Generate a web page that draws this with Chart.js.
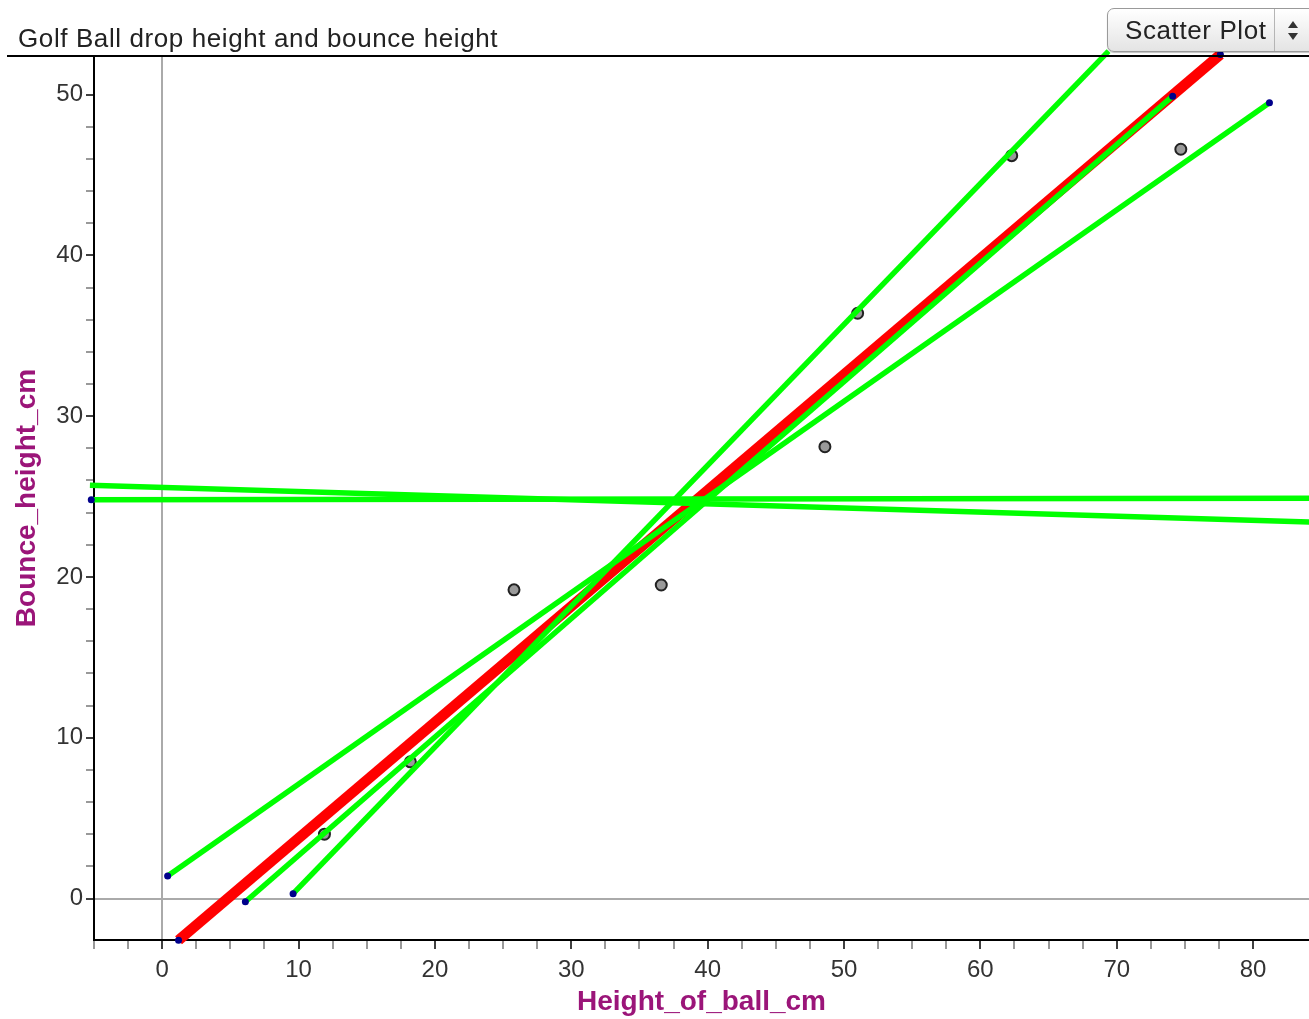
<!DOCTYPE html>
<html lang="en">
<head>
<meta charset="UTF-8">
<title>Golf Ball drop height and bounce height</title>
<script src="https://cdn.jsdelivr.net/npm/chart.js"></script>
<style>
  body { margin: 0; background: #fff; }
  #wrap { position: relative; width: 1309px; height: 1019px; overflow: hidden; }
  #chart { position: absolute; left: 0; top: 0; }
  .title { position: absolute; left: 18px; top: 25px; font: 26px "Liberation Sans", Arial, sans-serif; letter-spacing: 0.6px; line-height: 26px; color: #222; white-space: nowrap; }
  .picker { position: absolute; left: 1107px; top: 8px; width: 230px; height: 42px; border: 1px solid #9a9a9a; border-radius: 7px;
            background: linear-gradient(#ffffff, #e4e4e4); box-shadow: 0 1px 1px rgba(0,0,0,0.25); }
  .picker span { position: absolute; left: 17px; top: 7px; font: 26px "Liberation Sans", Arial, sans-serif; letter-spacing: 0.6px; line-height: 28px; color: #222; }
  .picker .sep { position: absolute; left: 166px; top: 0; width: 1px; height: 42px; background: #b5b5b5; }
  .picker .up, .picker .down { position: absolute; left: 180px; width: 0; height: 0; border-left: 5px solid transparent; border-right: 5px solid transparent; }
  .picker .up { top: 12px; border-bottom: 7px solid #333; }
  .picker .down { top: 24px; border-top: 7px solid #333; }
</style>
</head>
<body>
<div id="wrap">
  <canvas id="chart" width="1309" height="1019"></canvas>
  <div class="title">Golf Ball drop height and bounce height</div>
  <div class="picker"><span>Scatter Plot</span><div class="sep"></div><div class="up"></div><div class="down"></div></div>
</div>
<script>
  // measured points
  const heightOfBall = [11.9, 18.2, 25.8, 36.6, 48.6, 51.0, 62.3, 74.7];
  const bounceHeight = [4.0, 8.5, 19.2, 19.5, 28.1, 36.4, 46.2, 46.6];

  // red fitted line, end points
  const fitX = [1.2, 77.6];
  const fitY = [-2.6, 52.5];

  // green movable lines, end points
  const lineAX = [0.4, 81.2],  lineAY = [1.4, 49.5];
  const lineBX = [6.1, 74.1],  lineBY = [-0.2, 49.9];
  const lineCX = [9.6, 69.4],  lineCY = [0.3, 52.7];
  const lineDX = [-5.3, 84.8], lineDY = [25.7, 23.4];
  const lineEX = [-5.2, 84.8], lineEY = [24.8, 24.9];

  // tick labels
  const xLabels = [0, 10, 20, 30, 40, 50, 60, 70, 80];
  const yLabels = [0, 10, 20, 30, 40, 50];

  const pts = (xs, ys) => xs.map((x, i) => ({ x: x, y: ys[i] }));
  const near = (v, list) => list.some(t => Math.abs(v - t) < 1e-6);
  const isStep = (v, s) => Math.abs(v / s - Math.round(v / s)) < 1e-6;

  function greenLine(xs, ys) {
    return {
      data: pts(xs, ys), showLine: true, clip: false, order: 1,
      borderColor: '#00ff00', borderWidth: 5.5,
      pointRadius: 3.5, pointBackgroundColor: '#00008b', pointBorderWidth: 0
    };
  }

  // black rule under the title
  const titleRule = {
    id: 'titleRule',
    afterDraw(chart) {
      const c = chart.ctx;
      c.save();
      c.strokeStyle = '#000';
      c.lineWidth = 2;
      c.beginPath();
      c.moveTo(7, chart.chartArea.top);
      c.lineTo(1309, chart.chartArea.top);
      c.stroke();
      c.restore();
    }
  };

  const tickFont = { family: '"Liberation Sans", Arial, sans-serif', size: 24 };
  const titleFont = { family: '"Liberation Sans", Arial, sans-serif', size: 28, weight: 'bold' };

  new Chart(document.getElementById('chart').getContext('2d'), {
    type: 'scatter',
    data: {
      datasets: [
        {
          data: pts(heightOfBall, bounceHeight), order: 3,
          pointRadius: 5.5, backgroundColor: '#9a9a9a', borderColor: '#222', borderWidth: 2
        },
        {
          data: pts(fitX, fitY), showLine: true, clip: false, order: 2,
          borderColor: '#ff0000', borderWidth: 10.5,
          pointRadius: 3.5, pointBackgroundColor: '#00008b', pointBorderWidth: 0
        },
        greenLine(lineAX, lineAY),
        greenLine(lineBX, lineBY),
        greenLine(lineCX, lineCY),
        greenLine(lineDX, lineDY),
        greenLine(lineEX, lineEY)
      ]
    },
    options: {
      responsive: false,
      animation: false,
      layout: { autoPadding: false, padding: { top: 56, left: 0, right: 0, bottom: 0 } },
      plugins: { legend: { display: false }, tooltip: { enabled: false } },
      scales: {
        x: {
          type: 'linear', min: -5, max: 84.1,
          afterFit: s => { s.height = 79; s.paddingLeft = 0; s.paddingRight = 0; },
          ticks: {
            stepSize: 2.5, autoSkip: false, maxRotation: 0, padding: 7,
            color: '#333', font: tickFont,
            callback: v => near(v, xLabels) ? String(v) : ''
          },
          grid: {
            lineWidth: 2, tickLength: 9, tickWidth: 1.5,
            color: c => (c.tick && c.tick.value === 0) ? '#aaaaaa' : 'rgba(0,0,0,0)',
            tickColor: c => !c.tick || !isStep(c.tick.value, 2.5) ? 'rgba(0,0,0,0)' : (near(c.tick.value, xLabels) ? '#000' : '#777')
          },
          border: { color: '#000', width: 2 },
          title: { display: true, text: 'Height_of_ball_cm', color: '#9b1579', font: titleFont, padding: { top: 0, bottom: 0 } }
        },
        y: {
          type: 'linear', min: -2.58, max: 52.4,
          afterFit: s => { s.width = 94; s.paddingTop = 0; s.paddingBottom = 0; },
          ticks: {
            stepSize: 2, autoSkip: false, padding: 3,
            color: '#333', font: tickFont,
            callback: v => near(v, yLabels) ? String(v) : ''
          },
          grid: {
            lineWidth: 2, tickLength: 8, tickWidth: 1.5,
            color: c => (c.tick && c.tick.value === 0) ? '#aaaaaa' : 'rgba(0,0,0,0)',
            tickColor: c => !c.tick || !isStep(c.tick.value, 2) ? 'rgba(0,0,0,0)' : (near(c.tick.value, yLabels) ? '#000' : '#777')
          },
          border: { color: '#000', width: 2 },
          title: { display: true, text: 'Bounce_height_cm', color: '#9b1579', font: titleFont, padding: { top: 10, bottom: 0 } }
        }
      }
    },
    plugins: [titleRule]
  });
</script>
</body>
</html>
